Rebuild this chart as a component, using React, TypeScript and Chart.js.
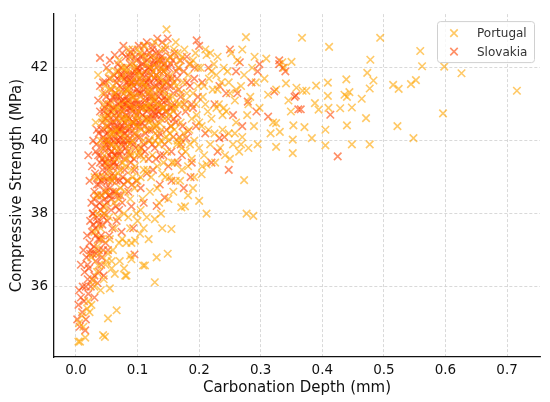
import { useEffect, useRef } from "react";
import { Chart, registerables, ChartConfiguration, Plugin } from "chart.js";

Chart.register(...registerables);

const SERIES = ["Portugal", "Slovakia"];
const X_TICKS = [0, 0.1, 0.2, 0.3, 0.4, 0.5, 0.6, 0.7];
const Y_TICKS = [36, 38, 40, 42];

// carbonation depth (mm), compressive strength (MPa)
const portugal: [number, number][] = [
  [0.0065, 34.49], [0.015, 34.6], [0.044, 34.67], [0.052, 35.13], [0.066, 35.35], [0.005, 35.0],
  [0.01, 35.2], [0.012, 34.9], [0.018, 35.4], [0.02, 35.6], [0.022, 35.3], [0.025, 35.5],
  [0.028, 36.17], [0.03, 36.0], [0.034, 36.4], [0.04, 35.9], [0.045, 36.2], [0.048, 36.6],
  [0.052, 36.9], [0.055, 37.3], [0.058, 36.5], [0.06, 37.0], [0.063, 37.6], [0.071, 36.7],
  [0.078, 36.5], [0.082, 36.3], [0.09, 37.2], [0.096, 37.26], [0.104, 37.45], [0.112, 36.58],
  [0.131, 36.8], [0.128, 36.12], [0.149, 36.9], [0.155, 37.58], [0.035, 37.1], [0.04, 37.6],
  [0.045, 38.0], [0.033, 38.5], [0.038, 39.0], [0.05, 38.6], [0.055, 39.2], [0.062, 38.3],
  [0.068, 37.9], [0.072, 38.7], [0.075, 37.3], [0.08, 39.3], [0.085, 37.9], [0.088, 38.4],
  [0.092, 39.0], [0.1, 37.8], [0.105, 38.1], [0.11, 37.6], [0.115, 37.9], [0.12, 38.6],
  [0.128, 37.85], [0.135, 38.3], [0.14, 37.6], [0.145, 39.0], [0.15, 38.4], [0.158, 38.6],
  [0.171, 38.17], [0.169, 38.9], [0.177, 38.2], [0.182, 38.5], [0.19, 38.7], [0.2, 38.35],
  [0.212, 38.0], [0.204, 39.08], [0.212, 39.35], [0.273, 38.92], [0.277, 38.0], [0.288, 37.94],
  [0.109, 36.58], [0.082, 37.2], [0.08, 36.3], [0.047, 34.62], [0.004, 34.49], [0.055, 35.95],
  [0.05, 36.7], [0.058, 36.7], [0.036, 36.58], [0.063, 36.35], [0.088, 36.85], [0.09, 36.75],
  [0.032, 40.5], [0.036, 41.8], [0.04, 40.0], [0.043, 41.3], [0.046, 39.6], [0.05, 40.8],
  [0.053, 41.9], [0.056, 40.2], [0.06, 41.5], [0.063, 39.8], [0.066, 40.9], [0.07, 42.2],
  [0.073, 41.0], [0.076, 39.4], [0.079, 40.6], [0.048, 39.0], [0.058, 38.9], [0.068, 39.1],
  [0.082, 41.9], [0.084, 40.4], [0.086, 42.5], [0.088, 39.7], [0.09, 41.2], [0.092, 40.0],
  [0.094, 42.0], [0.096, 39.3], [0.098, 40.7], [0.1, 41.8], [0.102, 39.8], [0.104, 42.4],
  [0.106, 40.3], [0.108, 41.6], [0.11, 39.5], [0.112, 42.6], [0.114, 40.9], [0.116, 39.2],
  [0.118, 41.3], [0.12, 40.0], [0.085, 38.9], [0.095, 38.7], [0.105, 39.0],
  [0.122, 42.0], [0.124, 39.6], [0.126, 41.1], [0.128, 42.7], [0.13, 40.4], [0.132, 39.3],
  [0.134, 41.4], [0.136, 42.2], [0.138, 40.0], [0.14, 39.1], [0.142, 41.9], [0.144, 40.6],
  [0.146, 42.6], [0.147, 43.05], [0.148, 39.7], [0.15, 41.2], [0.152, 40.2], [0.154, 42.3],
  [0.156, 39.4], [0.158, 40.8], [0.16, 41.6],
  [0.162, 42.7], [0.164, 39.9], [0.166, 41.0], [0.168, 42.2], [0.17, 40.5], [0.172, 39.2],
  [0.174, 41.6], [0.176, 42.5], [0.178, 39.7], [0.18, 40.9], [0.182, 41.8], [0.184, 40.3],
  [0.186, 42.1], [0.188, 39.5], [0.19, 41.3], [0.192, 40.0], [0.194, 42.4], [0.196, 40.7],
  [0.198, 41.5], [0.2, 39.8],
  [0.202, 42.0], [0.204, 40.4], [0.206, 41.2], [0.208, 39.6], [0.21, 42.5], [0.212, 42.35],
  [0.214, 40.8], [0.216, 41.7], [0.218, 39.9], [0.22, 40.6], [0.222, 41.4], [0.224, 42.1],
  [0.226, 39.4], [0.228, 40.9], [0.23, 42.3], [0.232, 41.0], [0.234, 39.8], [0.236, 41.6],
  [0.238, 40.3], [0.24, 42.0], [0.242, 39.6], [0.244, 40.8], [0.246, 41.9], [0.248, 40.2],
  [0.25, 41.3],
  [0.252, 42.4], [0.255, 39.9], [0.258, 41.1], [0.26, 40.5], [0.262, 42.2], [0.265, 39.7],
  [0.268, 41.5], [0.27, 40.1], [0.273, 41.8], [0.276, 42.84], [0.278, 40.7], [0.28, 39.8],
  [0.283, 41.2], [0.286, 42.0], [0.289, 40.4], [0.292, 41.6], [0.295, 39.9], [0.298, 40.9],
  [0.29, 42.3],
  [0.306, 41.7], [0.309, 42.25], [0.312, 41.26], [0.316, 40.2], [0.32, 40.5], [0.325, 40.48],
  [0.325, 41.4], [0.325, 39.83], [0.331, 40.24], [0.335, 42.15], [0.338, 42.0], [0.341, 41.57],
  [0.345, 41.1], [0.349, 40.8], [0.35, 42.16], [0.352, 40.03], [0.352, 39.66], [0.353, 40.42],
  [0.358, 41.45],
  [0.367, 42.82], [0.368, 41.37], [0.371, 40.37], [0.374, 41.37], [0.383, 40.07], [0.388, 41.03],
  [0.39, 41.51], [0.394, 40.85], [0.405, 40.3], [0.405, 39.87], [0.409, 41.23], [0.409, 41.59],
  [0.41, 40.9], [0.411, 42.57], [0.429, 40.89], [0.436, 41.26], [0.439, 41.68], [0.44, 41.2],
  [0.44, 40.42], [0.444, 41.33], [0.448, 40.91], [0.448, 39.9],
  [0.464, 41.15], [0.471, 40.62], [0.473, 41.86], [0.477, 41.43], [0.477, 39.9], [0.478, 42.22],
  [0.483, 41.65], [0.494, 42.82], [0.515, 41.53], [0.524, 41.42], [0.522, 40.4], [0.544, 41.55],
  [0.548, 40.07], [0.552, 41.66], [0.559, 42.46], [0.562, 42.04], [0.596, 40.75], [0.598, 42.03],
  [0.626, 41.85], [0.716, 41.37],
  // core of the cloud
  [0.045, 41.0], [0.05, 40.0], [0.055, 41.4], [0.06, 40.2], [0.065, 41.9], [0.07, 39.8],
  [0.075, 40.8], [0.08, 42.0], [0.085, 41.0], [0.09, 39.6], [0.095, 40.9], [0.1, 39.6],
  [0.105, 41.2], [0.11, 40.6], [0.115, 42.1], [0.12, 41.4], [0.125, 40.4], [0.13, 41.8],
  [0.135, 39.9], [0.14, 40.9], [0.145, 41.6], [0.15, 40.0], [0.155, 41.0], [0.16, 40.3],
  [0.165, 42.4], [0.17, 41.3], [0.175, 40.2], [0.18, 41.3], [0.185, 39.9], [0.19, 42.2],
  [0.195, 41.0], [0.2, 40.5], [0.205, 39.3], [0.21, 41.0], [0.215, 40.3], [0.22, 41.9],
  [0.225, 40.2], [0.23, 41.4], [0.24, 40.9], [0.25, 39.5], [0.26, 41.4], [0.27, 42.5],
  [0.28, 41.0], [0.122, 39.0], [0.132, 38.7], [0.142, 39.4], [0.152, 39.0], [0.162, 38.9],
  [0.172, 39.8], [0.182, 39.3], [0.192, 39.0], [0.108, 38.4], [0.098, 38.0], [0.078, 38.0],
  [0.066, 38.6], [0.054, 37.9], [0.042, 37.3], [0.038, 36.9], [0.03, 37.5], [0.025, 36.8],
  [0.07, 37.2], [0.088, 37.6], [0.118, 37.3], [0.138, 38.0], [0.16, 39.4], [0.178, 41.1],
  [0.188, 40.6], [0.198, 42.0], [0.208, 41.5], [0.218, 42.4], [0.228, 41.8], [0.238, 40.7],
  [0.248, 41.6], [0.258, 40.2], [0.268, 39.9], [0.118, 40.6], [0.128, 40.0], [0.09, 42.3],
  [0.1, 42.5], [0.14, 42.5],
  [0.042, 40.6], [0.044, 39.8], [0.047, 41.5], [0.049, 40.4], [0.051, 39.4], [0.054, 40.6],
  [0.057, 41.7], [0.059, 39.9], [0.061, 40.8], [0.063, 41.3], [0.065, 39.5], [0.067, 40.6],
  [0.069, 41.4], [0.071, 40.2], [0.072, 39.2], [0.074, 41.7], [0.076, 40.6], [0.078, 41.3],
  [0.08, 40.1], [0.081, 39.5], [0.083, 41.4], [0.085, 40.6], [0.087, 39.9], [0.089, 41.6],
  [0.091, 40.5], [0.093, 42.1], [0.095, 41.2], [0.097, 40.2], [0.099, 41.6], [0.101, 40.6],
  [0.103, 39.7], [0.105, 41.8], [0.107, 40.9], [0.109, 40.0], [0.111, 41.5], [0.113, 42.3],
  [0.115, 40.3], [0.117, 41.0], [0.119, 40.5], [0.121, 41.8], [0.123, 40.9], [0.125, 42.3],
  [0.127, 41.2], [0.129, 40.2], [0.131, 42.0], [0.133, 41.0], [0.135, 40.5], [0.137, 41.7],
  [0.139, 40.3], [0.141, 42.0], [0.143, 40.9], [0.145, 41.3], [0.147, 40.1], [0.149, 42.2],
  [0.151, 40.7], [0.153, 41.8], [0.155, 40.4], [0.157, 41.2], [0.159, 42.5], [0.161, 40.9],
  [0.163, 41.5], [0.165, 40.0], [0.167, 42.0], [0.169, 41.0], [0.171, 40.0], [0.173, 42.3],
  [0.06, 39.0], [0.07, 38.4], [0.08, 38.6], [0.09, 39.2], [0.1, 38.9], [0.11, 39.2],
  [0.048, 38.2], [0.035, 38.0], [0.03, 39.0], [0.04, 38.5], [0.1, 40.4], [0.086, 41.4],
  [0.076, 42.0], [0.066, 40.3], [0.056, 41.0], [0.046, 40.6],
];

const slovakia: [number, number][] = [
  [0.002, 35.1], [0.004, 35.5], [0.006, 34.9], [0.008, 35.7], [0.01, 35.3], [0.011, 36.0],
  [0.013, 35.6], [0.014, 36.4], [0.016, 35.1], [0.017, 36.8], [0.019, 36.2], [0.02, 35.8],
  [0.008, 36.6], [0.012, 37.0], [0.018, 37.4], [0.02, 39.6], [0.005, 35.9], [0.015, 34.8],
  [0.021, 36.5], [0.022, 37.2], [0.023, 37.8], [0.024, 36.0], [0.025, 38.3], [0.026, 37.5],
  [0.027, 36.9], [0.028, 38.0], [0.029, 37.1], [0.03, 38.6], [0.031, 37.6], [0.032, 36.7],
  [0.033, 38.2], [0.034, 37.9], [0.035, 39.0], [0.036, 37.3], [0.037, 38.8], [0.038, 36.4],
  [0.039, 39.4], [0.04, 38.1], [0.026, 39.3], [0.028, 40.0], [0.034, 40.3], [0.036, 41.1],
  [0.039, 40.8], [0.039, 41.5], [0.039, 42.27], [0.03, 35.7], [0.035, 36.1], [0.022, 38.9],
  [0.032, 39.7], [0.038, 37.7], [0.024, 37.0], [0.03, 36.3],
  [0.041, 37.4], [0.042, 38.5], [0.043, 39.2], [0.044, 40.1], [0.045, 37.9], [0.046, 38.9],
  [0.047, 39.8], [0.048, 40.6], [0.049, 41.2], [0.05, 38.3], [0.051, 39.5], [0.052, 40.4],
  [0.053, 41.0], [0.054, 41.7], [0.055, 38.7], [0.056, 39.9], [0.057, 40.8], [0.058, 41.4],
  [0.059, 37.6], [0.06, 39.1], [0.042, 36.8], [0.045, 36.3], [0.048, 37.2], [0.05, 42.0],
  [0.055, 42.2], [0.044, 41.6], [0.047, 40.9], [0.053, 40.0], [0.057, 39.3], [0.046, 38.0],
  [0.06, 40.5], [0.052, 37.0], [0.058, 38.4],
  [0.061, 40.9], [0.062, 41.8], [0.063, 39.6], [0.064, 40.3], [0.065, 41.3], [0.066, 38.9],
  [0.067, 40.0], [0.068, 42.1], [0.069, 39.3], [0.07, 40.7], [0.071, 41.5], [0.072, 38.5],
  [0.073, 39.9], [0.074, 41.1], [0.075, 42.4], [0.076, 40.4], [0.077, 42.6], [0.078, 39.5],
  [0.079, 41.7], [0.08, 40.2], [0.063, 42.35], [0.066, 37.8], [0.07, 38.1], [0.074, 37.5],
  [0.078, 38.8], [0.065, 40.6], [0.072, 40.1], [0.08, 41.0], [0.068, 41.0], [0.076, 39.0],
  [0.081, 41.4], [0.082, 40.6], [0.083, 42.0], [0.084, 39.7], [0.085, 41.1], [0.086, 40.3],
  [0.087, 42.3], [0.088, 40.9], [0.089, 39.4], [0.09, 41.6], [0.091, 40.0], [0.092, 42.5],
  [0.093, 41.2], [0.094, 40.5], [0.095, 39.2], [0.096, 41.9], [0.097, 40.8], [0.098, 42.2],
  [0.099, 41.4], [0.1, 40.1], [0.085, 38.6], [0.09, 38.2], [0.095, 36.88], [0.093, 37.6],
  [0.098, 38.9], [0.088, 41.8], [0.1, 42.0], [0.083, 40.0],
  [0.101, 41.0], [0.102, 42.6], [0.103, 40.4], [0.104, 41.7], [0.105, 39.6], [0.106, 41.3],
  [0.107, 42.1], [0.108, 40.7], [0.109, 41.5], [0.11, 39.9], [0.111, 42.4], [0.112, 41.1],
  [0.113, 40.2], [0.114, 41.8], [0.115, 42.7], [0.116, 40.6], [0.117, 41.4], [0.118, 39.5],
  [0.119, 42.0], [0.12, 40.9], [0.105, 38.7], [0.11, 38.3], [0.115, 39.1], [0.12, 41.6],
  [0.108, 42.3],
  [0.121, 42.3], [0.122, 41.2], [0.123, 40.3], [0.124, 41.9], [0.125, 42.6], [0.126, 40.8],
  [0.127, 41.5], [0.128, 39.8], [0.129, 42.1], [0.13, 41.0], [0.131, 40.4], [0.132, 42.8],
  [0.133, 41.7], [0.134, 40.1], [0.135, 42.4], [0.136, 41.3], [0.137, 39.6], [0.138, 42.0],
  [0.139, 40.7], [0.14, 41.6], [0.131, 38.21], [0.136, 38.8], [0.125, 39.2], [0.144, 38.44],
  [0.141, 42.2], [0.142, 40.9], [0.143, 41.4], [0.144, 39.9], [0.145, 42.5], [0.146, 41.1],
  [0.147, 40.3], [0.148, 41.8], [0.149, 42.8], [0.15, 40.6], [0.152, 41.5], [0.154, 42.1],
  [0.155, 39.7], [0.156, 40.9], [0.158, 41.3], [0.16, 42.4], [0.15, 39.3],
  [0.162, 40.5], [0.164, 41.7], [0.166, 42.0], [0.168, 40.1], [0.17, 41.2], [0.172, 39.6],
  [0.175, 41.9], [0.178, 40.8], [0.18, 42.3], [0.182, 40.26], [0.185, 41.5], [0.188, 39.4],
  [0.19, 40.9], [0.193, 42.0], [0.196, 42.75], [0.198, 41.2], [0.179, 40.07], [0.186, 39.0],
  [0.175, 38.7], [0.195, 40.4],
  [0.205, 41.6], [0.21, 40.2], [0.215, 42.0], [0.22, 39.4], [0.225, 41.0], [0.233, 41.5],
  [0.233, 40.07], [0.241, 40.1], [0.244, 41.3], [0.25, 42.5], [0.255, 40.7], [0.26, 41.9],
  [0.266, 42.15], [0.27, 40.4], [0.279, 41.07], [0.285, 41.6], [0.293, 40.8], [0.295, 41.9],
  [0.298, 42.1], [0.23, 39.7], [0.248, 39.2], [0.262, 41.3],
  [0.312, 40.66], [0.322, 41.35], [0.33, 42.1], [0.336, 42.0], [0.34, 41.9], [0.355, 41.2],
  [0.357, 41.24], [0.361, 40.86], [0.365, 40.86], [0.413, 40.71], [0.425, 39.57], [0.33, 42.2],
  // core of the cloud
  [0.031, 39.1], [0.033, 39.9], [0.035, 38.5], [0.037, 40.2], [0.04, 39.6], [0.041, 38.9],
  [0.043, 40.5], [0.044, 38.2], [0.046, 39.4], [0.047, 41.3], [0.049, 38.7], [0.05, 39.9],
  [0.051, 40.7], [0.052, 38.9], [0.054, 39.6], [0.055, 40.3], [0.056, 41.1], [0.057, 38.1],
  [0.058, 39.7], [0.059, 40.9], [0.06, 38.6], [0.045, 40.0], [0.048, 41.6], [0.053, 38.5],
  [0.042, 39.8], [0.038, 38.3], [0.034, 38.8], [0.036, 39.6], [0.029, 38.4], [0.027, 38.0],
  [0.032, 37.4], [0.037, 37.0], [0.041, 36.6], [0.026, 36.2], [0.023, 36.9], [0.019, 36.6],
  [0.016, 36.0], [0.028, 37.7], [0.033, 36.9], [0.043, 37.7], [0.047, 38.4], [0.051, 37.8],
  [0.054, 37.4], [0.044, 37.0], [0.039, 37.3], [0.035, 37.8],
  [0.061, 39.4], [0.062, 40.1], [0.064, 41.2], [0.065, 39.9], [0.066, 41.6], [0.067, 40.4],
  [0.069, 41.9], [0.07, 39.6], [0.071, 40.3], [0.072, 41.2], [0.073, 40.6], [0.074, 39.7],
  [0.075, 40.9], [0.076, 41.4], [0.077, 40.0], [0.078, 41.1], [0.079, 40.5], [0.08, 41.8],
  [0.081, 39.8], [0.082, 41.2], [0.083, 40.7], [0.084, 41.6], [0.085, 40.0], [0.086, 41.5],
  [0.087, 40.6], [0.088, 42.1], [0.089, 41.0], [0.09, 40.4], [0.091, 41.8], [0.092, 40.8],
  [0.093, 39.9], [0.094, 41.5], [0.095, 40.2], [0.096, 42.3], [0.097, 41.1], [0.098, 40.4],
  [0.099, 42.0], [0.1, 41.3], [0.064, 38.6], [0.068, 39.7], [0.071, 38.9], [0.075, 38.3],
  [0.079, 39.2], [0.083, 38.9], [0.087, 39.6], [0.091, 38.8], [0.094, 39.5], [0.097, 39.8],
  [0.067, 41.7], [0.073, 42.0], [0.081, 42.3], [0.089, 42.4], [0.062, 40.7],
  [0.101, 41.9], [0.102, 40.8], [0.103, 41.3], [0.104, 40.1], [0.105, 42.3], [0.106, 41.0],
  [0.107, 40.5], [0.108, 41.8], [0.109, 40.9], [0.11, 41.4], [0.111, 40.4], [0.112, 41.9],
  [0.113, 41.2], [0.114, 40.6], [0.115, 41.6], [0.116, 42.2], [0.117, 40.9], [0.118, 41.7],
  [0.119, 40.3], [0.12, 42.4], [0.121, 41.0], [0.122, 41.8], [0.123, 41.4], [0.124, 40.7],
  [0.125, 41.2], [0.126, 42.1], [0.127, 40.6], [0.128, 41.7], [0.129, 41.1], [0.13, 42.4],
  [0.131, 41.5], [0.132, 40.9], [0.133, 42.2], [0.134, 41.2], [0.135, 40.8], [0.136, 41.9],
  [0.137, 41.4], [0.138, 40.6], [0.139, 42.3], [0.14, 41.1], [0.142, 41.9], [0.144, 41.2],
  [0.146, 42.0], [0.148, 40.8], [0.15, 41.7], [0.106, 39.8], [0.112, 39.7], [0.118, 40.0],
  [0.124, 39.9], [0.13, 39.5], [0.136, 40.2], [0.142, 39.6], [0.11, 42.6], [0.124, 42.5],
  [0.14, 42.7],
  [0.152, 42.3], [0.154, 40.4], [0.156, 41.7], [0.158, 40.1], [0.16, 41.0], [0.163, 41.9],
  [0.165, 40.7], [0.167, 41.4], [0.17, 42.2], [0.173, 40.4], [0.176, 41.0], [0.18, 41.6],
  [0.184, 42.1], [0.188, 41.0], [0.192, 41.7], [0.155, 38.9], [0.165, 39.4], [0.17, 39.9],
  [0.2, 42.6],
  [0.041, 40.3], [0.043, 39.5], [0.045, 40.8], [0.046, 40.3], [0.048, 39.4], [0.049, 40.0],
  [0.05, 41.0], [0.051, 40.2], [0.052, 39.3], [0.053, 40.7], [0.054, 40.1], [0.055, 39.0],
  [0.056, 40.5], [0.057, 39.7], [0.058, 40.3], [0.059, 39.5], [0.06, 41.2], [0.061, 40.0],
  [0.062, 39.0], [0.063, 40.5], [0.064, 39.3], [0.065, 40.2], [0.066, 39.6], [0.067, 41.2],
  [0.068, 40.3], [0.069, 40.8], [0.07, 41.0], [0.044, 39.0], [0.047, 38.6], [0.05, 39.2],
  [0.053, 39.8], [0.056, 38.5], [0.059, 38.9], [0.062, 39.4], [0.065, 38.2], [0.068, 38.5],
  [0.071, 40.0], [0.072, 41.8], [0.073, 40.4], [0.074, 40.8], [0.075, 40.3], [0.076, 41.8],
  [0.077, 41.0], [0.078, 40.2], [0.079, 40.9], [0.08, 39.9], [0.081, 40.7], [0.082, 41.6],
  [0.083, 41.1], [0.084, 40.4], [0.085, 41.8], [0.086, 40.9], [0.087, 41.3], [0.088, 40.2],
  [0.089, 41.6], [0.09, 40.9], [0.091, 41.3], [0.092, 41.6], [0.093, 40.5], [0.094, 41.0],
  [0.095, 41.8], [0.096, 40.6], [0.097, 41.6], [0.098, 41.0], [0.099, 40.7], [0.1, 41.6],
  [0.101, 40.5], [0.103, 41.9], [0.105, 40.9], [0.107, 41.6], [0.109, 42.1], [0.111, 41.0],
  [0.113, 41.6], [0.115, 40.8], [0.117, 42.0], [0.119, 41.2], [0.121, 40.6], [0.123, 42.0],
  [0.125, 40.9], [0.127, 42.2], [0.129, 40.7], [0.131, 41.8], [0.133, 40.8], [0.135, 41.6],
  [0.137, 42.2], [0.139, 41.0], [0.141, 41.5], [0.143, 42.1], [0.145, 40.8], [0.147, 41.6],
  [0.149, 41.1], [0.151, 42.0], [0.153, 40.9], [0.155, 41.5], [0.157, 42.2], [0.159, 40.6],
];

const COLORS = ["rgba(255,165,0,0.6)", "rgba(255,69,0,0.6)"];

const drawCross = (ctx: CanvasRenderingContext2D, x: number, y: number, r: number) => {
  const d = r * Math.SQRT1_2;
  ctx.beginPath();
  ctx.moveTo(x - d, y - d);
  ctx.lineTo(x + d, y + d);
  ctx.moveTo(x - d, y + d);
  ctx.lineTo(x + d, y - d);
  ctx.stroke();
};

// matplotlib-like framed legend in the upper right corner
const legendBox: Plugin<"scatter"> = {
  id: "legendBox",
  afterDraw(chart) {
    const { ctx, chartArea } = chart;
    const x = chartArea.right - 103;
    const y = chartArea.top + 7;
    ctx.save();
    ctx.fillStyle = "rgba(255,255,255,0.8)";
    ctx.strokeStyle = "#d0d0d0";
    ctx.lineWidth = 1;
    ctx.beginPath();
    ctx.roundRect(x + 0.5, y + 0.5, 97, 41, 3);
    ctx.fill();
    ctx.stroke();
    ctx.font = "12px 'DejaVu Sans'";
    ctx.textBaseline = "middle";
    chart.data.datasets.forEach((ds, i) => {
      const cy = y + 12 + i * 18.5;
      ctx.strokeStyle = ds.borderColor as string;
      ctx.lineWidth = 1.6;
      drawCross(ctx, x + 17, cy, 5.3);
      ctx.fillStyle = "#333";
      ctx.fillText(ds.label ?? "", x + 40, cy + 1);
    });
    ctx.restore();
  },
};

const ScatterChart = () => {
  const chartRef = useRef<HTMLCanvasElement | null>(null);
  const chartInstance = useRef<Chart | null>(null);

  useEffect(() => {
    document.body.style.margin = "0";
    if (!chartRef.current) return;
    if (chartInstance.current) chartInstance.current.destroy();
    const ctx = chartRef.current.getContext("2d");
    if (!ctx) return;

    const tickFont = { family: "'DejaVu Sans'", size: 13.5 };
    const titleFont = { family: "'DejaVu Sans'", size: 15 };

    const config: ChartConfiguration<"scatter"> = {
      type: "scatter",
      data: {
        datasets: [portugal, slovakia].map((pts, i) => ({
          label: SERIES[i],
          data: pts.map(([x, y]) => ({ x, y })),
          pointStyle: "crossRot",
          pointRadius: 5.3,
          pointBorderWidth: 1.6,
          borderColor: COLORS[i],
          backgroundColor: COLORS[i],
          order: i,
        })),
      },
      options: {
        responsive: false,
        animation: false,
        events: [],
        layout: { padding: { top: 12, right: 10, left: 0, bottom: 0 } },
        plugins: {
          legend: { display: false },
          tooltip: { enabled: false },
        },
        scales: {
          x: {
            type: "linear",
            min: -0.0357,
            max: 0.7535,
            afterBuildTicks: (s) => {
              s.ticks = X_TICKS.map((value) => ({ value }));
            },
            afterFit: (s) => {
              s.height = 45;
            },
            ticks: {
              font: tickFont,
              color: "#111",
              padding: 5,
              callback: (v) => Number(v).toFixed(1),
            },
            grid: { color: "#cfcfcf", lineWidth: 0.8, drawTicks: false },
            border: { color: "#111", width: 1.3, dash: [3, 2] },
            title: {
              display: true,
              text: "Carbonation Depth (mm)",
              font: titleFont,
              color: "#111",
              padding: { top: 0, bottom: 5 },
            },
          },
          y: {
            type: "linear",
            min: 34.07,
            max: 43.47,
            afterBuildTicks: (s) => {
              s.ticks = Y_TICKS.map((value) => ({ value }));
            },
            afterFit: (s) => {
              s.width = 54;
            },
            ticks: {
              font: tickFont,
              color: "#111",
              padding: 6,
              callback: (v) => String(v),
            },
            grid: { color: "#cfcfcf", lineWidth: 0.8, drawTicks: false },
            border: { color: "#111", width: 1.3, dash: [3, 2] },
            title: {
              display: true,
              text: "Compressive Strength (MPa)",
              font: titleFont,
              color: "#111",
              padding: { top: 8, bottom: 0 },
            },
          },
        },
      },
      plugins: [legendBox],
    };

    chartInstance.current = new Chart(ctx, config);
    return () => {
      chartInstance.current?.destroy();
    };
  }, []);

  return <canvas ref={chartRef} width={550} height={402} />;
};

export default function App() {
  return (
    <div style={{ width: 550, height: 402 }}>
      <ScatterChart />
    </div>
  );
}
